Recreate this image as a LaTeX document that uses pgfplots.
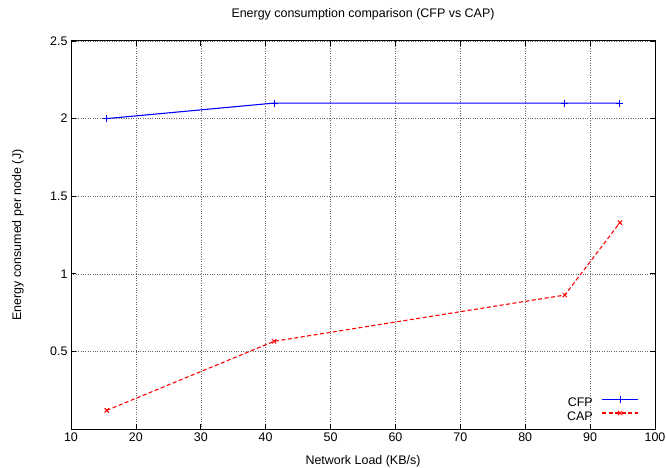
\documentclass[border=0pt]{standalone}
\usepackage{pgfplots}
\pgfplotsset{compat=1.18}
\usepackage{fontspec}
\setmainfont{Liberation Sans}
\newcommand{\gf}{\fontsize{12.5}{14}\selectfont}
\begin{document}
\begin{tikzpicture}
\useasboundingbox (-71bp,-39bp) rectangle (595bp,429bp);
\begin{axis}[
  at={(0,0)}, anchor=south west,
  scale only axis, width=584bp, height=388bp,
  xmin=10, xmax=100, ymin=0, ymax=2.5,
  xtick={10,20,...,100},
  ytick={0.5,1,1.5,2,2.5},
  yticklabels={0.5,1,1.5,2,2.5},
  xticklabels={10,20,30,40,50,60,70,80,90,100},
  tick align=inside, major tick length=5bp,
  grid=major,
  major grid style={black!60, dotted, line width=0.5pt},
  axis line style={black, line width=1pt},
  every tick/.style={black, line width=0.7pt},
  /pgf/number format/assume math mode=true,
  ticklabel style={font=\gf},
  title={Energy consumption comparison (CFP vs CAP)},
  title style={at={(axis description cs:0.5,1.054)}, anchor=center, font=\gf},
  xlabel={Network Load (KB/s)},
  xlabel style={at={(axis description cs:0.5,-0.082)}, anchor=center, font=\gf},
  ylabel={Energy consumed per node (J)},
  ylabel style={at={(axis description cs:-0.091,0.5)}, anchor=center, font=\gf},
  legend style={at={(axis description cs:0.9726,0.02)}, anchor=south east, draw=none, fill=none,
    inner sep=0pt, legend plot pos=right, row sep=3bp, column sep=9bp, font=\gf,
    nodes={inner sep=0pt, text height=8bp, text depth=1bp}},
  legend cell align=right,
  legend image code/.code={\draw[mark repeat=2,mark phase=2,#1] plot coordinates {(0bp,3.5bp) (18bp,3.5bp) (36bp,3.5bp)};},
]
\addplot[blue, line width=1.1pt, mark=+, mark size=3.5bp, mark options={solid, line width=1pt}]
  coordinates {(15.5,2.0) (41.3,2.1) (86.1,2.1) (94.6,2.1)};
\addlegendentry{CFP}
\addplot[red, line width=1.1pt, dash pattern=on 4bp off 2.5bp, mark=x, mark size=3bp, mark options={solid, line width=1pt}]
  coordinates {(15.5,0.12) (41.3,0.565) (86.1,0.863) (94.6,1.33)};
\addlegendentry{CAP}
\end{axis}
\end{tikzpicture}
\end{document}
